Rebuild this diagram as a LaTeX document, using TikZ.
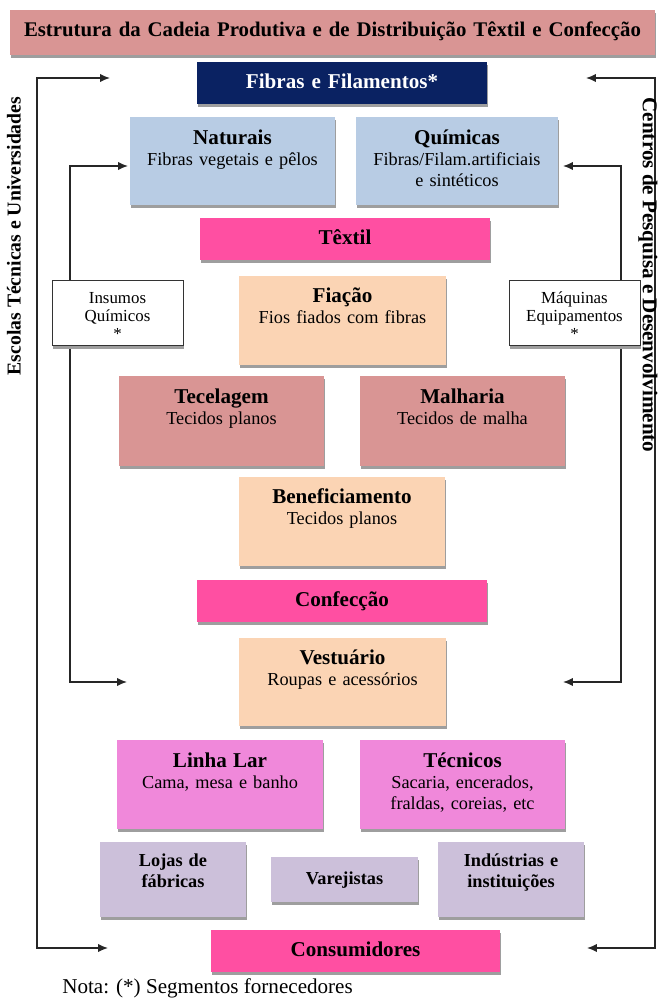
\documentclass[tikz,border=0pt]{standalone}
\usepackage{fontspec}
\setmainfont{Liberation Serif}
\usetikzlibrary{arrows.meta,shadows}
\definecolor{rosa}{HTML}{D99594}
\definecolor{marinho}{HTML}{0A2262}
\definecolor{azul}{HTML}{B8CCE4}
\definecolor{faixa}{HTML}{FF4FA2}
\definecolor{pessego}{HTML}{FBD4B4}
\definecolor{orquidea}{HTML}{F088DA}
\definecolor{lilas}{HTML}{CCC0DA}
\newdimen\pxu \pxu=0.025cm
\newcommand{\cab}[1]{{\fontsize{15}{17}\selectfont\bfseries #1}}
\tikzset{>={Latex[length=7pt,width=6pt]}}
\tikzset{
  etapa/.style={anchor=north, inner sep=0pt, align=center,
    font=\fontsize{13}{15}\selectfont,
    drop shadow={shadow xshift=0.7pt, shadow yshift=-2.2pt, fill=black!38, opacity=1}},
  faixa/.style={etapa, fill=faixa, text width=290\pxu, text height=26\pxu, text depth=16\pxu,
    font=\fontsize{15}{17}\selectfont\bfseries},
  insumo/.style={etapa, fill=white, draw=black!80, line width=0.6pt, text width=131\pxu,
    text height=23\pxu, text depth=42\pxu, font=\fontsize{12}{13}\selectfont},
  varejo/.style={etapa, fill=lilas, text width=146\pxu, font=\fontsize{13}{15}\selectfont\bfseries},
}

\begin{document}
\begin{tikzpicture}[x=0.025cm, y=-0.025cm]
    \useasboundingbox (0,0) rectangle (659,998);

    % pontos das setas laterais
    \coordinate (eT) at (110,78);   \coordinate (eTc) at (37,78);
    \coordinate (eB) at (108,948);  \coordinate (eBc) at (37,948);
    \coordinate (iT) at (128,166);  \coordinate (iTc) at (70,166);
    \coordinate (iB) at (127,682);  \coordinate (iBc) at (70,682);
    \coordinate (mT) at (563,166);  \coordinate (mTc) at (621,166);
    \coordinate (mB) at (563,682);  \coordinate (mBc) at (621,682);
    \coordinate (cT) at (586,78);   \coordinate (cTc) at (655,78);
    \coordinate (cB) at (587,948);  \coordinate (cBc) at (655,948);

    \path[<->, draw, line width=1.1pt, color=black!85] (eT) -- (eTc) -- (eBc) -- (eB);
    \path[<->, draw, line width=1.1pt, color=black!85] (iT) -- (iTc) -- (iBc) -- (iB);
    \path[<->, draw, line width=1.1pt, color=black!85] (mT) -- (mTc) -- (mBc) -- (mB);
    \path[<->, draw, line width=1.1pt, color=black!85] (cT) -- (cTc) -- (cBc) -- (cB);

    \node at (332.5, 10) (titulo) [etapa, fill=rosa, text width=645\pxu, text height=26\pxu, text depth=19\pxu,
      font=\fontsize{14.8}{17}\selectfont\bfseries] {Estrutura da Cadeia Produtiva e de Distribuição Têxtil e Confecção};

    \node at (342, 62) (fibras) [faixa, fill=marinho, text=white] {Fibras e Filamentos*};
    \node at (232.5, 117) (naturais) [etapa, fill=azul, text width=205\pxu, text height=27\pxu, text depth=61\pxu]
      {\cab{Naturais}\\Fibras vegetais e pêlos};
    \node at (457, 117) (quimicas) [etapa, fill=azul, text width=202\pxu, text height=27\pxu, text depth=61\pxu]
      {\cab{Químicas}\\Fibras/Filam.artificiais\\e sintéticos};

    \node at (345, 218) (textil) [faixa] {Têxtil};
    \node at (117.5, 280) (insumos) [insumo] {Insumos\\Químicos\\{*}};
    \node at (574.5, 280) (maquinas) [insumo] {Máquinas\\Equipamentos\\{*}};
    \node at (342.5, 276) (fiacao) [etapa, fill=pessego, text width=207\pxu, text height=26\pxu, text depth=63\pxu]
      {\cab{Fiação}\\Fios fiados com fibras};
    \node at (221.5, 376) (tecelagem) [etapa, fill=rosa, text width=205\pxu, text height=27\pxu, text depth=63\pxu]
      {\cab{Tecelagem}\\Tecidos planos};
    \node at (462.5, 376) (malharia) [etapa, fill=rosa, text width=205\pxu, text height=27\pxu, text depth=63\pxu]
      {\cab{Malharia}\\Tecidos de malha};
    \node at (342, 477) (benef) [etapa, fill=pessego, text width=206\pxu, text height=26\pxu, text depth=63\pxu]
      {\cab{Beneficiamento}\\Tecidos planos};

    \node at (342, 580) (confeccao) [faixa] {Confecção};
    \node at (342.5, 638) (vestuario) [etapa, fill=pessego, text width=207\pxu, text height=26\pxu, text depth=62\pxu]
      {\cab{Vestuário}\\Roupas e acessórios};
    \node at (220, 740) (linhalar) [etapa, fill=orquidea, text width=206\pxu, text height=27\pxu, text depth=62\pxu]
      {\cab{Linha Lar}\\Cama, mesa e banho};
    \node at (462.5, 740) (tecnicos) [etapa, fill=orquidea, text width=205\pxu, text height=27\pxu, text depth=62\pxu]
      {\cab{Técnicos}\\Sacaria, encerados,\\fraldas, coreias, etc};

    \node at (173, 842) (lojas) [varejo, text height=24\pxu, text depth=51\pxu] {Lojas de\\fábricas};
    \node at (344.5, 857) (varejistas) [varejo, text width=147\pxu, text height=27\pxu, text depth=18\pxu] {Varejistas};
    \node at (511, 842) (industrias) [varejo, text height=24\pxu, text depth=51\pxu] {Indústrias e\\instituições};
    \node at (355.5, 930) (consumidores) [faixa, text width=289\pxu] {Consumidores};

    \node at (14, 236) (escolas) [rotate=90, font=\fontsize{14}{16}\selectfont\bfseries] {Escolas Técnicas e Universidades};
    \node at (648, 275) (centros) [rotate=-90, font=\fontsize{15}{17}\selectfont\bfseries] {Centros de Pesquisa e Desenvolvimento};

    \node at (62, 993) (nota) [anchor=base west, inner sep=0pt, font=\fontsize{15}{17}\selectfont] {Nota: (*) Segmentos fornecedores};
\end{tikzpicture}
\end{document}
